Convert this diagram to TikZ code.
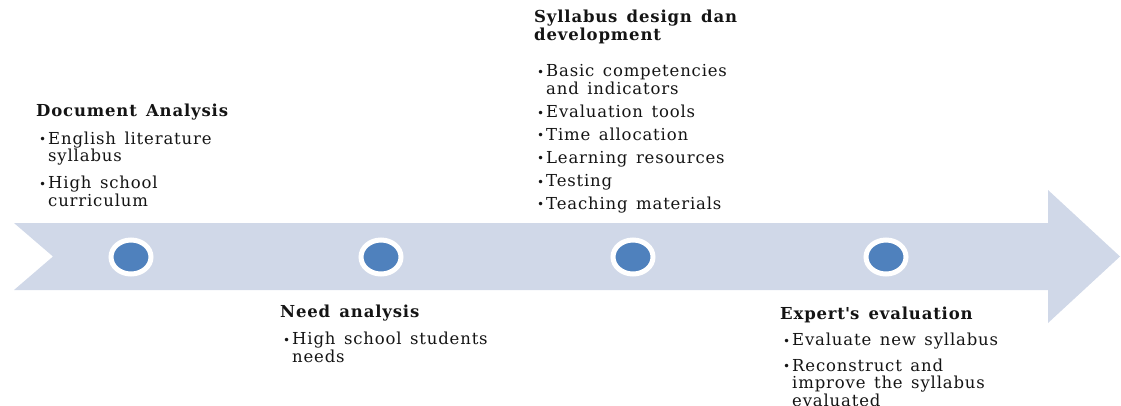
\documentclass[tikz,border=0pt]{standalone}
\usepackage{fontspec}
\setmainfont{DejaVu Serif}[LetterSpace=5,WordSpace=1.4]
\usetikzlibrary{shapes.geometric}

\definecolor{band}{HTML}{D0D8E8}
\definecolor{dotblue}{HTML}{4F81BD}
% bullet line and its hanging continuation
\newcommand{\itm}{\hspace*{3pt}\makebox[9pt][l]{\raisebox{.5pt}{\fontsize{12}{12}\selectfont •}}}
\newcommand{\cont}{\hspace*{12pt}}

\begin{document}
\begin{tikzpicture}[x=1pt,y=-1pt,
	milestone/.style={ellipse,fill=dotblue,draw=white,line width=5pt,minimum width=40pt,minimum height=34pt,inner sep=0pt},
	stage/.style={anchor=base west,align=left,inner sep=0pt,font=\fontsize{16.5}{17.5}\selectfont,text=black!92}]
	\useasboundingbox (0,0) rectangle (1121,405);
	
	% timeline band
	\fill[band] (14,223) -- (1048,223) -- (1048,190) -- (1120,256.5) -- (1048,323)
		-- (1048,290) -- (14,290) -- (53,256.5) -- cycle;
	\node[milestone] (m1) at (131,257) {};
	\node[milestone] (m2) at (381,257) {};
	\node[milestone] (m3) at (633,257) {};
	\node[milestone] (m4) at (886,257) {};
	
	% text blocks, placed by the baseline of their last line
	\node[stage] (doc) at (36,206) {\textbf{Document Analysis}\\[10.5pt]
		\itm English literature\\ \cont syllabus\\[9.5pt]
		\itm High school\\ \cont curriculum};
	\node[stage] (need) at (280,362) {\textbf{Need analysis}\\[10pt]
		\itm High school students\\ \cont needs};
	\node[stage] (design) at (534,209) {\textbf{Syllabus design dan}\\ \textbf{development}\\[19pt]
		\itm Basic competencies\\ \cont and indicators\\[6pt]
		\itm Evaluation tools\\[5pt]
		\itm Time allocation\\[5.5pt]
		\itm Learning resources\\[6pt]
		\itm Testing\\[5pt]
		\itm Teaching materials};
	\node[stage] (expert) at (780,406) {\textbf{Expert\textquotesingle s evaluation}\\[9pt]
		\itm Evaluate new syllabus\\[8pt]
		\itm Reconstruct and\\ \cont improve the syllabus\\ \cont evaluated};
\end{tikzpicture}
\end{document}
